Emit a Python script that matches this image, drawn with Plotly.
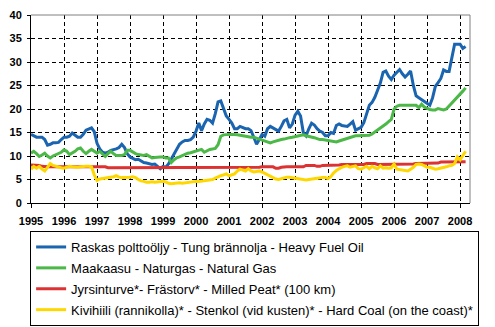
import pandas as pd
import plotly.graph_objects as go

months = pd.date_range("1995-01-01", periods=159, freq="MS")
x_years = list(months.year + (months.month - 1) / 12.0)

names = [
    "Raskas polttoöljy - Tung brännolja - Heavy Fuel Oil",
    "Maakaasu - Naturgas - Natural Gas",
    "Jyrsinturve*- Frästorv* - Milled Peat* (100 km)",
    "Kivihiili (rannikolla)* - Stenkol (vid kusten)* - Hard Coal (on the coast)*",
]

heavy_fuel_oil = [
    14.6, 14.3, 14.0, 14.0, 14.0, 13.5, 12.3, 12.5, 12.8, 12.8, 12.9, 13.5,
    14.0, 14.0, 14.2, 14.9, 14.4, 14.0, 14.0, 14.6, 15.5, 15.8, 16.0, 15.2,
    12.7, 11.5, 10.8, 10.6, 10.8, 11.2, 11.3, 11.5, 11.8, 12.5, 11.8, 10.5,
    9.8, 9.5, 9.2, 9.3, 9.0, 8.6, 8.5, 8.3, 8.2, 8.3, 7.8, 7.3,
    7.8, 7.6, 8.3, 9.3, 10.3, 11.2, 12.5, 13.0, 13.3, 13.3, 13.5, 14.0,
    15.3, 17.0, 15.4, 16.8, 17.8, 17.6, 17.0, 19.0, 21.5, 21.7, 20.0, 18.5,
    17.8, 17.0, 15.8, 15.8, 16.3, 16.0, 15.8, 15.8, 15.4, 14.0, 12.5, 13.5,
    14.6, 14.2, 15.8, 16.3, 16.0, 15.7, 15.3, 16.3, 17.5, 17.8, 16.0, 16.8,
    18.7, 19.5, 18.5, 15.0, 14.3, 15.8, 17.0, 16.6, 15.8, 15.3, 15.0, 14.3,
    14.3, 15.0, 14.8, 16.5, 16.8, 16.5, 16.4, 16.3, 16.8, 17.3, 15.5, 15.8,
    16.1, 17.1, 19.0, 20.8, 21.4, 22.5, 24.0, 25.5, 27.8, 28.1, 27.0, 26.3,
    27.2, 27.8, 28.4, 27.5, 26.8, 27.4, 28.1, 25.0, 22.8, 22.4, 22.0, 21.7,
    21.2, 20.8, 22.4, 24.8, 25.6, 26.5, 28.3, 28.0, 28.0, 31.0, 33.8, 33.8,
    33.8, 32.9, 33.3,
]

natural_gas = [
    10.6, 11.0, 10.5, 9.9, 10.2, 10.6, 10.0, 9.6, 10.0, 10.3, 10.5, 10.8,
    11.3, 11.0, 10.3, 10.6, 11.0, 11.5, 11.7, 11.0, 10.5, 11.0, 11.4, 11.0,
    10.6, 11.0, 10.5, 9.9, 10.5, 11.0, 10.5, 10.1, 10.1, 10.1, 10.3, 11.2,
    11.2, 10.8, 10.5, 10.3, 10.2, 10.1, 10.3, 10.0, 9.6, 9.7, 9.8, 9.8,
    9.8, 9.6, 9.6, 8.6, 9.2, 9.6, 9.8, 10.1, 10.4, 10.6, 10.7, 10.9,
    11.0, 11.3, 11.4, 10.8, 11.1, 11.4, 11.5, 11.6, 12.4, 14.2, 14.5, 14.6,
    14.6, 14.6, 14.6, 14.5, 14.4, 14.3, 14.1, 14.0, 14.0, 14.0, 13.8, 13.6,
    13.5, 13.3, 13.0, 12.8, 13.0, 13.2, 13.4, 13.5, 13.6, 13.8, 13.9, 14.0,
    14.1, 14.2, 14.3, 14.5, 14.3, 14.2, 14.1, 13.9, 13.7, 13.5, 13.5, 13.4,
    13.3, 13.2, 13.1, 13.0, 13.2, 13.4, 13.5, 13.7, 13.9, 14.1, 14.3, 14.3,
    14.3, 14.3, 14.3, 14.4, 14.7, 15.1, 15.5, 15.9, 16.3, 16.8, 17.3, 17.8,
    20.0, 20.6, 20.8, 20.8, 20.9, 20.9, 20.9, 20.9, 20.8, 20.3, 21.0, 20.4,
    20.1, 19.9, 19.8, 19.8, 20.1, 19.9, 19.8, 20.0, 20.6, 21.2, 21.9, 22.5,
    23.2, 23.8, 24.5,
]

milled_peat = [
    8.1, 8.1, 8.1, 8.0, 7.8, 7.7, 7.7, 7.7, 7.7, 7.7, 7.7, 7.7,
    7.7, 7.7, 7.7, 7.7, 7.7, 7.7, 7.7, 7.7, 7.7, 7.7, 7.7, 7.7,
    7.7, 7.7, 7.7, 7.7, 7.5, 7.5, 7.5, 7.5, 7.6, 7.6, 7.6, 7.6,
    7.6, 7.6, 7.6, 7.6, 7.6, 7.6, 7.6, 7.6, 7.6, 7.6, 7.6, 7.6,
    7.5, 7.5, 7.5, 7.5, 7.5, 7.5, 7.5, 7.5, 7.5, 7.5, 7.5, 7.5,
    7.5, 7.5, 7.5, 7.5, 7.5, 7.5, 7.5, 7.5, 7.5, 7.5, 7.5, 7.6,
    7.6, 7.6, 7.6, 7.6, 7.6, 7.6, 7.6, 7.6, 7.6, 7.6, 7.6, 7.6,
    7.7, 7.7, 7.7, 7.7, 7.7, 7.4, 7.4, 7.6, 7.7, 7.7, 7.7, 7.7,
    7.7, 7.7, 7.7, 7.7, 8.0, 8.0, 8.0, 8.0, 7.8, 7.8, 8.0, 8.0,
    8.0, 8.0, 8.0, 8.0, 8.1, 8.2, 8.2, 8.2, 8.2, 8.2, 8.2, 8.3,
    8.2, 8.2, 8.4, 8.4, 8.4, 8.4, 8.2, 8.2, 8.2, 8.2, 8.2, 8.2,
    8.2, 8.2, 8.2, 8.2, 8.2, 8.2, 8.3, 8.3, 8.4, 8.4, 8.4, 8.4,
    8.5, 8.5, 8.5, 8.5, 8.5, 8.7, 8.7, 8.7, 8.7, 8.8, 8.8, 8.8,
    8.8, 8.8, 8.8,
]

hard_coal = [
    7.2, 7.8, 7.4, 7.8, 7.2, 6.8, 7.6, 8.4, 8.0, 7.8, 7.6, 7.5,
    7.4, 7.6, 7.8, 7.7, 7.6, 7.6, 7.7, 7.8, 7.8, 7.8, 7.7, 6.0,
    4.8, 5.1, 5.2, 5.3, 5.3, 5.4, 5.6, 5.8, 5.5, 5.4, 5.4, 5.5,
    5.5, 5.6, 5.4, 5.0, 4.7, 4.6, 4.4, 4.4, 4.5, 4.4, 4.5, 4.6,
    4.6, 4.5, 4.2, 4.1, 4.2, 4.3, 4.3, 4.2, 4.3, 4.4, 4.4, 4.5,
    4.6, 4.6, 4.7, 4.8, 4.8, 4.9, 5.0, 5.3, 5.6, 5.8, 6.0, 6.2,
    5.8, 6.0, 6.2, 6.8, 7.2, 7.0, 6.8, 7.3, 6.8, 6.6, 6.7, 6.8,
    6.6, 6.3, 6.0, 5.7, 5.3, 5.1, 5.0, 5.2, 5.4, 5.5, 5.5, 5.4,
    5.3, 5.2, 5.1, 5.0, 4.9, 5.0, 5.1, 5.2, 5.3, 5.4, 5.4, 5.4,
    5.2, 5.6, 6.4, 6.9, 7.3, 7.6, 7.8, 7.9, 7.6, 7.7, 7.9, 7.3,
    7.2, 7.5, 7.8, 7.3, 7.8, 7.5, 7.3, 7.9, 7.4, 7.5, 7.4, 7.5,
    8.3, 7.2, 7.1, 7.0, 6.9, 6.8, 7.2, 7.6, 8.2, 8.3, 8.2, 7.9,
    7.6, 7.6, 7.4, 7.2, 7.3, 7.4, 7.5, 7.7, 7.9, 8.0, 8.4, 9.8,
    9.2, 10.2, 11.0,
]

series = [heavy_fuel_oil, natural_gas, milled_peat, hard_coal]
colors = ["#1A64B0", "#4CB848", "#DC3232", "#FFD700"]

fig = go.Figure()
for i, (name, vals, col) in enumerate(zip(names, series, colors)):
    fig.add_trace(go.Scatter(
        x=x_years, y=vals, mode="lines", name=name,
        line=dict(color=col, width=3), legendgroup=f"g{i}",
    ))

tick_font = dict(family="Liberation Sans", size=11, color="black", weight="bold")

fig.update_layout(
    width=495, height=327,
    margin=dict(l=31, r=25, t=15, b=124, autoexpand=False),
    paper_bgcolor="white", plot_bgcolor="white",
    showlegend=True,
    legend=dict(
        x=-0.002, y=-0.149, xanchor="left", yanchor="top",
        bordercolor="black", borderwidth=1, bgcolor="white",
        font=dict(family="Liberation Sans", size=13, color="black"),
        tracegroupgap=1, itemwidth=30,
    ),
    xaxis=dict(
        type="linear", range=[1995, 2008.3],
        tick0=1995, dtick=1, tickformat="d",
        showgrid=True, gridcolor="#000000", gridwidth=1, griddash="4px 3px",
        showline=True, linecolor="black", linewidth=1,
        ticks="outside", ticklen=4, tickcolor="black", ticklabelstandoff=4,
        tickfont=tick_font, zeroline=False,
    ),
    yaxis=dict(
        range=[0, 40], dtick=5, tick0=0,
        showgrid=True, gridcolor="#000000", gridwidth=1, griddash="4px 3px",
        showline=True, linecolor="black", linewidth=1,
        ticks="outside", ticklen=3, tickcolor="black", ticklabelstandoff=3,
        tickfont=tick_font, zeroline=False,
    ),
    shapes=[
        dict(type="line", xref="paper", yref="paper", x0=0, x1=1, y0=1, y1=1,
             line=dict(color="#808080", width=1)),
        dict(type="line", xref="paper", yref="paper", x0=1, x1=1, y0=0, y1=1,
             line=dict(color="#808080", width=1)),
    ],
)

fig.write_html("out.html")
